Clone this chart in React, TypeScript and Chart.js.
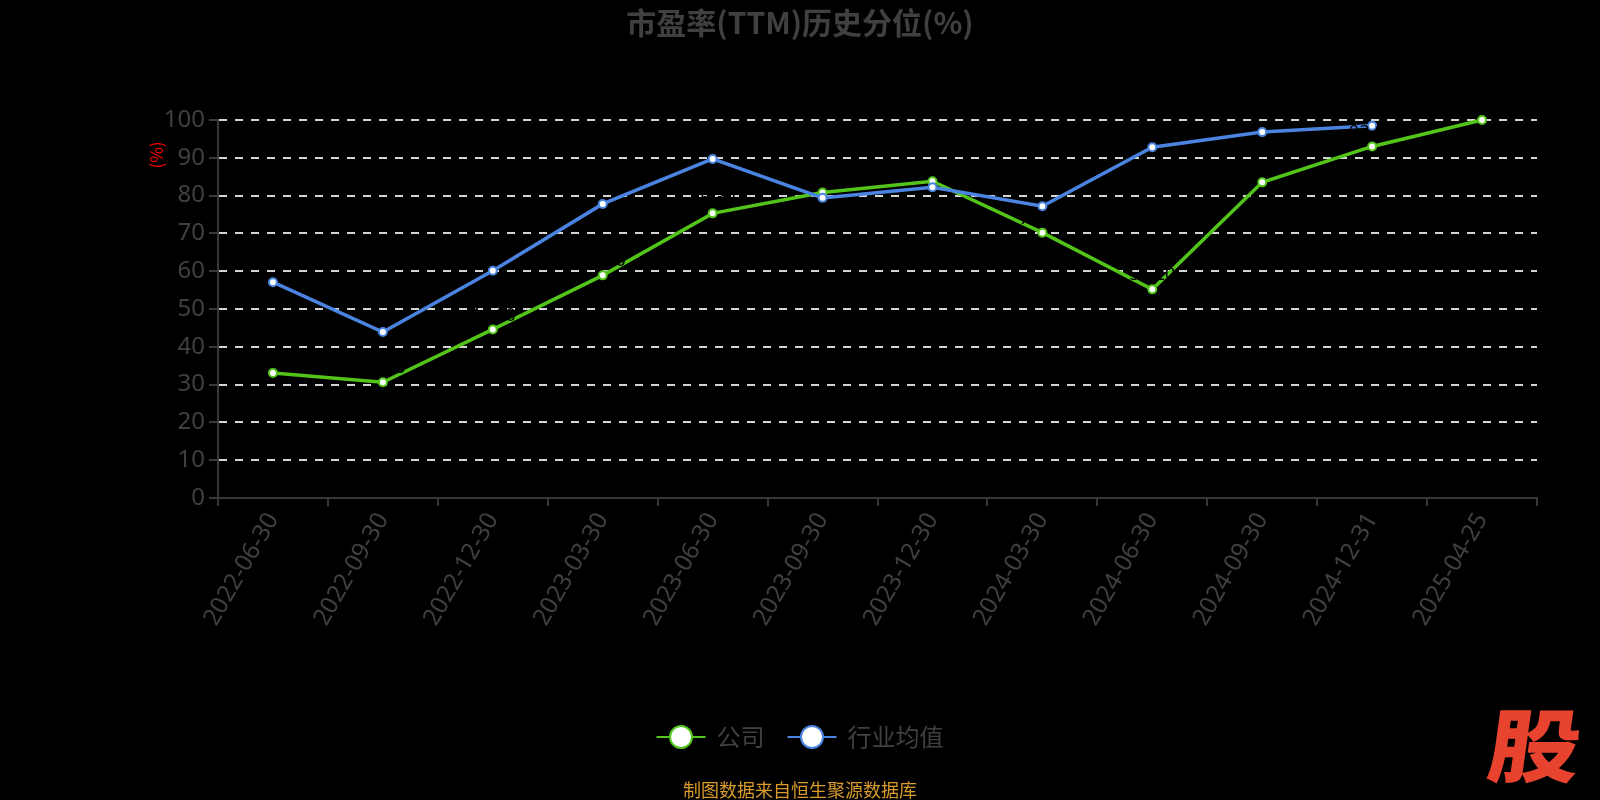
import React, { useEffect, useRef } from "react";
import { Chart, registerables } from "chart.js";

Chart.register(...registerables);

const categories = [
  "2022-06-30", "2022-09-30", "2022-12-30", "2023-03-30", "2023-06-30", "2023-09-30",
  "2023-12-30", "2024-03-30", "2024-06-30", "2024-09-30", "2024-12-31", "2025-04-25",
];
const companyValues = [33.1, 30.6, 44.6, 58.9, 75.3, 80.8, 83.8, 70.2, 55.2, 83.5, 93.0, 100];
const industryValues: (number | null)[] = [57.1, 43.9, 60.1, 77.8, 89.7, 79.4, 82.2, 77.2, 92.8, 96.8, 98.5, null];
const seriesNames = ["公司", "行业均值"];
const seriesColors = ["#52c41a", "#4a84e0"];
const titleText = "市盈率(TTM)历史分位(%)";
const yAxisTitle = "(%)";
const sourceText = "制图数据来自恒生聚源数据库";
const logoText = "股";

const FONT = '"Noto Sans", "Noto Sans CJK SC", sans-serif';
const CJK = '"Noto Sans CJK SC", "Noto Sans", sans-serif';
const TEXT_GRAY = "#404040";
const AXIS_GRAY = "#383838";
const GRID = "#d4d4d4";

const overlay = {
  id: "overlay",
  afterDatasetsDraw(chart: any) {
    // value labels of the company series, drawn in black as in the source
    const ctx = chart.ctx;
    ctx.save();
    ctx.font = `18px ${FONT}`;
    ctx.fillStyle = "#000";
    ctx.textAlign = "center";
    ctx.textBaseline = "bottom";
    const ds = chart.data.datasets[0];
    const meta = chart.getDatasetMeta(0);
    meta.data.forEach((pt: any, j: number) => {
      const v = ds.data[j];
      if (v == null) return;
      ctx.fillText(Number(v).toFixed(2), pt.x, pt.y - 5);
    });
    ctx.restore();
  },
  afterDraw(chart: any) {
    const ctx = chart.ctx;
    const area = chart.chartArea;
    ctx.save();
    // title
    ctx.font = `bold 30px ${CJK}`;
    ctx.fillStyle = TEXT_GRAY;
    ctx.textAlign = "center";
    ctx.textBaseline = "middle";
    ctx.fillText(titleText, chart.width / 2, 23);

    // y-axis title
    ctx.save();
    ctx.translate(area.left - 61, area.top + 35);
    ctx.rotate(-Math.PI / 2);
    ctx.font = `17px ${CJK}`;
    ctx.fillStyle = "#ff0000";
    ctx.textAlign = "center";
    ctx.textBaseline = "middle";
    ctx.fillText(yAxisTitle, 0, 0);
    ctx.restore();

    // legend
    ctx.font = `24px ${CJK}`;
    const symW = 49;
    const gapText = 11;
    const gapItem = 23;
    const widths = seriesNames.map((n) => symW + gapText + ctx.measureText(n).width);
    const total = widths.reduce((a, b) => a + b, 0) + gapItem * (seriesNames.length - 1);
    let x = chart.width / 2 - total / 2;
    const ly = 737;
    seriesNames.forEach((name, i) => {
      const c = seriesColors[i];
      ctx.strokeStyle = c;
      ctx.lineWidth = 2;
      ctx.beginPath();
      ctx.moveTo(x, ly);
      ctx.lineTo(x + symW, ly);
      ctx.stroke();
      ctx.beginPath();
      ctx.arc(x + symW / 2, ly, 11, 0, Math.PI * 2);
      ctx.fillStyle = "#fff";
      ctx.fill();
      ctx.stroke();
      ctx.fillStyle = TEXT_GRAY;
      ctx.textAlign = "left";
      ctx.textBaseline = "middle";
      ctx.fillText(name, x + symW + gapText, ly);
      x += widths[i] + gapItem;
    });

    // source
    ctx.font = `18px ${CJK}`;
    ctx.fillStyle = "#d99a2b";
    ctx.textAlign = "center";
    ctx.textBaseline = "middle";
    ctx.fillText(sourceText, chart.width / 2, 790);

    // logo
    ctx.save();
    ctx.translate(1535, 746);
    ctx.transform(1.15, 0, -0.14, 1, 0, 0);
    ctx.font = `900 80px ${CJK}`;
    ctx.fillStyle = "#e8432e";
    ctx.textAlign = "center";
    ctx.textBaseline = "middle";
    ctx.fillText(logoText, 0, 0);
    ctx.restore();

    ctx.restore();
  },
};

export default function App() {
  const canvasRef = useRef<HTMLCanvasElement | null>(null);

  useEffect(() => {
    if (!canvasRef.current) return;
    const chart = new Chart(canvasRef.current, {
      type: "line",
      data: {
        labels: categories,
        datasets: [
          {
            label: seriesNames[0],
            data: companyValues,
            borderColor: seriesColors[0],
            backgroundColor: seriesColors[0],
            borderWidth: 3.5,
            pointRadius: 4,
            pointBorderWidth: 2,
            pointBackgroundColor: "#ffffff",
            pointBorderColor: seriesColors[0],
            tension: 0,
            clip: false as any,
            order: 1,
          },
          {
            label: seriesNames[1],
            data: industryValues,
            borderColor: seriesColors[1],
            backgroundColor: seriesColors[1],
            borderWidth: 3.5,
            pointRadius: 4,
            pointBorderWidth: 2,
            pointBackgroundColor: "#ffffff",
            pointBorderColor: seriesColors[1],
            tension: 0,
            spanGaps: false,
            clip: false as any,
            order: 0,
          },
        ],
      },
      options: {
        responsive: false,
        animation: false,
        layout: { padding: { top: 120, right: 63, left: 0, bottom: 0 } },
        plugins: {
          legend: { display: false },
          title: { display: false },
          tooltip: { enabled: false },
        },
        scales: {
          x: {
            type: "category",
            offset: true,
            grid: {
              display: true,
              drawOnChartArea: false,
              offset: true,
              drawTicks: true,
              tickLength: 8,
              color: AXIS_GRAY,
              lineWidth: 2,
            },
            border: { display: true, color: AXIS_GRAY, width: 2 },
            ticks: {
              color: TEXT_GRAY,
              font: { size: 24, family: FONT },
              minRotation: 60,
              maxRotation: 60,
              autoSkip: false,
              padding: 2,
            },
            afterFit(scale: any) {
              scale.height = 302;
            },
          },
          y: {
            min: 0,
            max: 100,
            ticks: {
              stepSize: 10,
              color: TEXT_GRAY,
              font: { size: 24, family: FONT },
              padding: 4,
            },
            grid: {
              color: (c: any) => (c.tick && c.tick.value === 0 ? "rgba(0,0,0,0)" : GRID),
              lineWidth: 2,
              drawTicks: true,
              tickLength: 9,
              tickColor: AXIS_GRAY,
              tickWidth: 2,
            },
            border: { display: true, color: AXIS_GRAY, width: 2, dash: [8, 8] },
            afterFit(scale: any) {
              scale.width = 218;
            },
          },
        },
      },
      plugins: [overlay],
    });
    return () => chart.destroy();
  }, []);

  return (
    <div style={{ position: "fixed", left: 0, top: 0, width: 1600, height: 800, background: "#000" }}>
      <canvas ref={canvasRef} width={1600} height={800} style={{ display: "block" }} />
    </div>
  );
}
